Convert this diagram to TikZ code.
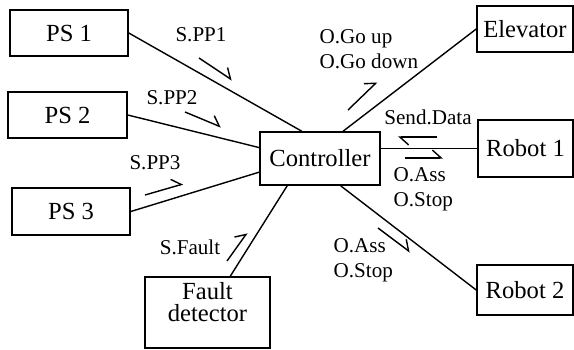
\documentclass[tikz,border=0pt]{standalone}
\usepackage{fontspec}
\setmainfont{Liberation Serif}
\usetikzlibrary{arrows.meta}
\usetikzlibrary{calc}

\tikzset{
  unitbox/.style={draw, line width=0.9pt, inner sep=0pt, align=center, font=\rmfamily\fontsize{14}{12.5}\selectfont},
  msg/.style={font=\rmfamily\fontsize{12}{14.2}\selectfont, inner sep=0pt},
  half/.style={line width=0.8pt, -{Straight Barb[left,length=5pt,width=9pt]}}
}

\begin{document}
\begin{tikzpicture}[x=0.02cm, y=-0.02cm, line width=0.8pt]
    \useasboundingbox (0,0) rectangle (574,349);
    % units
    \node[unitbox, minimum width=2.36cm, minimum height=0.92cm] (ps1) at (69,33) {PS 1};
    \node[unitbox, minimum width=2.38cm, minimum height=0.92cm] (ps2) at (67.5,115) {PS 2};
    \node[unitbox, minimum width=2.36cm, minimum height=0.94cm] (ps3) at (71,211.5) {PS 3};
    \node[unitbox, minimum width=2.40cm, minimum height=1.06cm] (ctrl) at (320,158.5) {Controller};
    \node[unitbox, minimum width=1.92cm, minimum height=0.92cm] (elev) at (525,29) {Elevator};
    \node[unitbox, minimum width=1.90cm, minimum height=1.14cm] (rob1) at (525.5,148.5) {Robot 1};
    \node[unitbox, minimum width=1.92cm, minimum height=1.00cm] (rob2) at (525,290) {Robot 2};
    \node[unitbox, minimum width=2.50cm, minimum height=1.42cm] (fault) at (207.5,312.5) {Fault\\detector\\};
    % links
    \draw (ps1.east) -- ($(ctrl.north west)!0.35!(ctrl.north east)$);
    \draw (ps2.east) -- ($(ctrl.north west)!0.3!(ctrl.south west)$);
    \draw (ps3.east) -- ($(ctrl.north west)!0.75!(ctrl.south west)$);
    \draw ($(fault.north west)!0.68!(fault.north east)$) -- ($(ctrl.south west)!0.23!(ctrl.south east)$);
    \draw (elev.west) -- ($(ctrl.north west)!0.69!(ctrl.north east)$);
    \draw (rob1.west) -- (rob1.west -| ctrl.east);
    \draw ($(ctrl.south west)!0.67!(ctrl.south east)$) -- (rob2.west);
    % messages
    \node[msg] (pp1) at (201,35) {S.PP1};
    \node[msg] (pp2) at (172,98) {S.PP2};
    \node[msg] (pp3) at (155,163) {S.PP3};
    \node[msg] (sfault) at (190,247) {S.Fault};
    \node[msg, anchor=west, align=left] (goud) at (319,49.5) {O.Go up\\O.Go down};
    \node[msg] (send) at (428,117) {Send.Data};
    \node[msg, anchor=west, align=left] (ass1) at (393,189.5) {O.Ass\\O.Stop};
    \node[msg, anchor=west, align=left] (ass2) at (333,260.5) {O.Ass\\O.Stop};
    % directions
    \draw[half] (199,58) -- (232,80);
    \draw[half] (185,112) -- (221,127);
    \draw[half] (145,195) -- (183,184);
    \draw[half] (227,261) -- (247,233);
    \draw[half] (348,110) -- (377,82);
    \draw[half] (437,137) -- (398,137);
    \draw[half] (405,158) -- (443,158);
    \draw[half] (378,228) -- (410,252);
\end{tikzpicture}
\end{document}
